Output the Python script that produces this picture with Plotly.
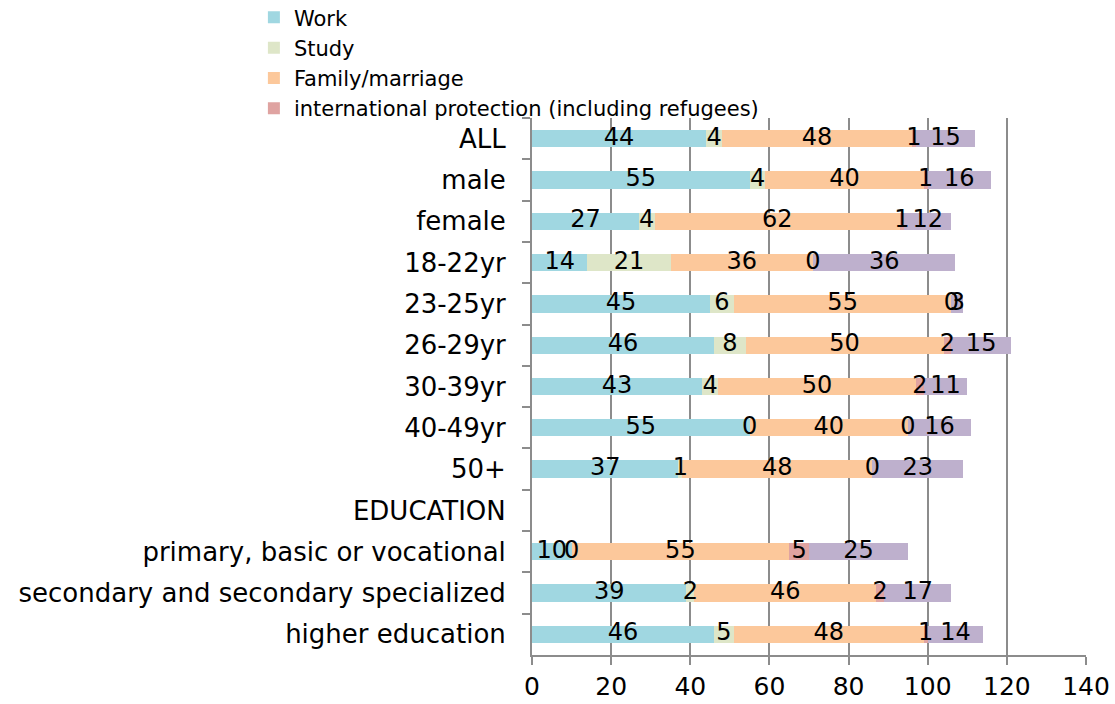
import plotly.graph_objects as go
import numpy as np

# categories, top to bottom
categories = ["ALL", "male", "female", "18-22yr", "23-25yr", "26-29yr", "30-39yr",
              "40-49yr", "50+", "EDUCATION", "primary, basic or vocational",
              "secondary and secondary specialized", "higher education"]

work = [44, 55, 27, 14, 45, 46, 43, 55, 37, None, 10, 39, 46]
study = [4, 4, 4, 21, 6, 8, 4, 0, 1, None, 0, 2, 5]
family = [48, 40, 62, 36, 55, 50, 50, 40, 48, None, 55, 46, 48]
protection = [1, 1, 1, 0, 0, 2, 2, 0, 0, None, 5, 2, 1]
other = [15, 16, 12, 36, 3, 15, 11, 16, 23, None, 25, 17, 14]

series = [
    ("Work", work, "#A0D7E1", True),
    ("Study", study, "#DEE6C8", True),
    ("Family/marriage", family, "#FCC89B", True),
    ("international protection (including refugees)", protection, "#DFA3A1", True),
    ("other", other, "#BEB0CD", False),
]

FONT = "DejaVu Sans"
fig = go.Figure()

# stacked bars plus centred value labels (scatter text so zero segments still get a label)
base = np.zeros(len(categories))
lab_x, lab_y, lab_t = [], [], []
for name, vals, color, show in series:
    fig.add_trace(go.Bar(
        y=categories, x=vals, name=name, orientation="h",
        marker=dict(color=color, line=dict(width=0)),
        showlegend=show, hoverinfo="x+name",
    ))
    for i, v in enumerate(vals):
        if v is None:
            continue
        lab_x.append(base[i] + v / 2)
        lab_y.append(categories[i])
        lab_t.append(str(v))
        base[i] += v

fig.add_trace(go.Scatter(
    x=lab_x, y=lab_y, text=lab_t, mode="text", showlegend=False,
    textfont=dict(family=FONT, size=24, color="black"), hoverinfo="skip",
))

fig.update_layout(
    barmode="stack",
    bargap=0.58,
    width=1115, height=704,
    paper_bgcolor="white", plot_bgcolor="white",
    font=dict(family=FONT, size=24, color="black"),
    margin=dict(l=532, r=29, t=118, b=49, autoexpand=False),
    legend=dict(
        x=-0.502, y=1.225, xanchor="left", yanchor="top",
        font=dict(family=FONT, size=21), bgcolor="rgba(0,0,0,0)",
        itemwidth=30, tracegroupgap=0, traceorder="normal",
    ),
)
fig.update_xaxes(
    range=[0, 140], dtick=20, showgrid=True, gridcolor="#8c8c8c", gridwidth=2,
    showline=True, linecolor="#8c8c8c", linewidth=2,
    ticks="outside", ticklen=8, tickcolor="#8c8c8c", tickwidth=2,
    zeroline=False, tickfont=dict(size=25), automargin=False,
)
fig.update_yaxes(
    categoryorder="array", categoryarray=categories,
    range=[len(categories) - 0.5, -0.5],
    showline=True, linecolor="#8c8c8c", linewidth=2,
    ticks="outside", tickson="boundaries", ticklen=8, tickcolor="#8c8c8c", tickwidth=2,
    showgrid=False, ticklabelstandoff=19, tickfont=dict(size=26), automargin=False,
)

# drop the default 8px page margin so the figure fills the window exactly
fig.write_html("out.html", config={"displayModeBar": False},
               post_script="document.body.style.margin='0';")
